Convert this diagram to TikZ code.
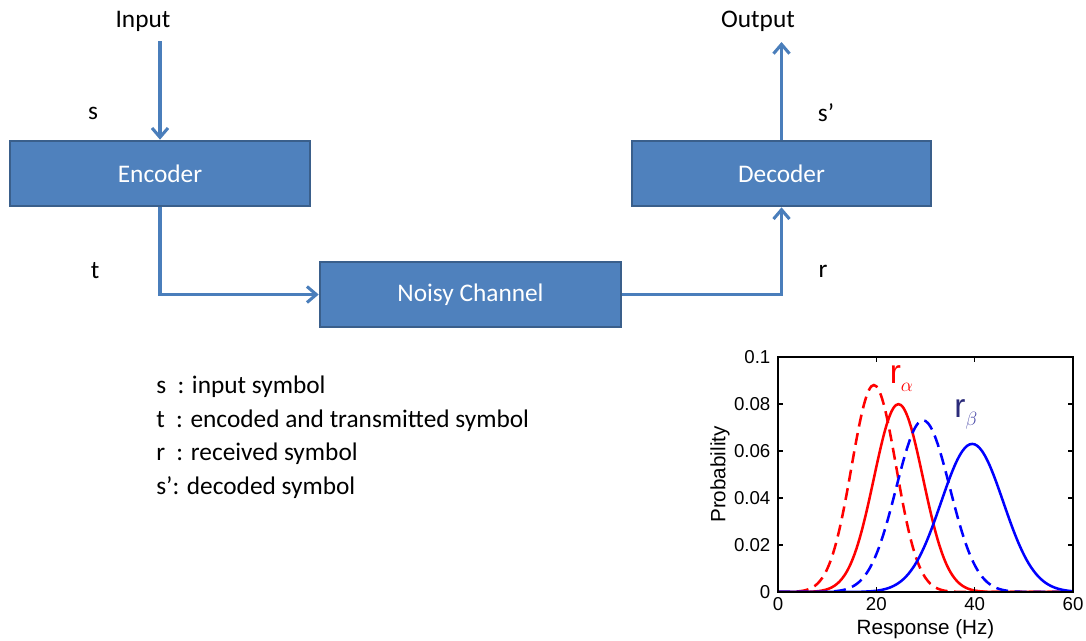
\documentclass[tikz,border=0pt]{standalone}
\usepackage{fontspec}
\setmainfont{Carlito}
\newfontfamily\plotfont{Liberation Sans}
\usetikzlibrary{arrows.meta}
\definecolor{boxfill}{HTML}{4F81BD}
\definecolor{boxedge}{HTML}{3A5F8B}
\definecolor{linkblue}{HTML}{4A7EBB}
\definecolor{navy}{HTML}{2B2B7A}
\definecolor{subnavy}{HTML}{4A4AA8}
\tikzset{
  blockbox/.style={draw=boxedge, fill=boxfill, line width=2pt, text=white,
    minimum height=48.75pt, inner sep=0pt, font=\fontsize{19}{23}\selectfont},
  link/.style={draw=linkblue, line width=2.3pt,
    -{Straight Barb[length=7pt,width=12pt,line width=2.3pt]}},
  lab/.style={font=\fontsize{19}{23}\selectfont, inner sep=0pt},
  axis/.style={draw=black, line width=0.8pt},
  tick/.style={font=\plotfont\fontsize{14}{16}\selectfont},
  axlab/.style={font=\plotfont\fontsize{15.5}{17}\selectfont},
  curve/.style={line width=1.9pt, smooth},
  dcurve/.style={curve, dash pattern=on 9pt off 5pt},
}
\begin{document}
\begin{tikzpicture}[x=0.75pt,y=-0.75pt]
\useasboundingbox (0,0) rectangle (1086,640);

% blocks
\node[blockbox, minimum width=225pt] (enc) at (160,173.5) {Encoder};
\node[blockbox, minimum width=225.75pt] (ch) at (470.5,294.5) {Noisy Channel};
\node[blockbox, minimum width=224.25pt] (dec) at (781.5,173.5) {Decoder};

% labels
\node[lab] (in) at (143,21) {Input};
\node[lab] (out) at (758,21) {Output};
\node[lab] (ls) at (93,113) {s};
\node[lab] (lt) at (95,271) {t};
\node[lab] (lsp) at (826,113) {s’};
\node[lab] (lr) at (823,271) {r};

\coordinate (inTop) at (enc.north |- 0,41);
\coordinate (outTop) at (dec.north |- 0,42);
\coordinate (bend1) at (enc.south |- ch.west);
\coordinate (bend2) at (dec.south |- ch.east);

\draw[link] (inTop) -- (enc.north);
\draw[link] (enc.south) -- (bend1) -- (ch.west);
\draw[link] (ch.east) -- (bend2) -- (dec.south);
\draw[link] (dec.north) -- (outTop);

% legend
\node[lab, anchor=west] (l1) at (156,387) {s\hspace{0.45em}: input symbol};
\node[lab, anchor=west] (l2) at (156,421) {t\hspace{0.45em}: encoded and transmitted symbol};
\node[lab, anchor=west] (l3) at (156,454) {r\hspace{0.45em}: received symbol};
\node[lab, anchor=west] (l4) at (156,488) {s’: decoded symbol};

% plot
\begin{scope}[shift={(778,592)}, x=3.6875pt, y=1762.5pt]
  \begin{scope}
    \clip (0,0) rectangle (60,0.1);
    \draw[red, dcurve] plot[domain=0:60, samples=121] (\x,{exp(-((\x-19.5)^2)/(2*4.53*4.53))/(4.53*2.5066)});
    \draw[red, curve] plot[domain=0:60, samples=121] (\x,{exp(-((\x-24.5)^2)/(2*4.99*4.99))/(4.99*2.5066)});
    \draw[blue, dcurve] plot[domain=0:60, samples=121] (\x,{exp(-((\x-29.5)^2)/(2*5.46*5.46))/(5.46*2.5066)});
    \draw[blue, curve] plot[domain=0:60, samples=121] (\x,{exp(-((\x-39.5)^2)/(2*6.33*6.33))/(6.33*2.5066)});
  \end{scope}
  \draw[axis] (0,0) rectangle (60,0.1);
  \foreach \v in {0,20,40,60} {
    \draw[axis] (\v,0) -- ++(0,0.0022);
    \draw[axis] (\v,0.1) -- ++(0,-0.0022);
    \node[tick, anchor=north] at (\v,-0.0005) {\v};
  }
  \foreach \v/\t in {0/0,0.02/0.02,0.04/0.04,0.06/0.06,0.08/0.08,0.1/0.1} {
    \draw[axis] (0,\v) -- ++(1,0);
    \draw[axis] (60,\v) -- ++(-1,0);
    \node[tick, anchor=east] at (-0.6,\v) {\t};
  }
  \node[axlab] (xl) at (30,-0.0158) {Response (Hz)};
  \node[axlab, rotate=90] (yl) at (-11.8,0.05) {Probability};
  \node[red, inner sep=0pt, font=\plotfont\fontsize{25}{26}\selectfont] (ra) at (25.1,0.091) {r\raisebox{-0.45ex}{\fontsize{14}{15}\selectfont$\alpha$}};
  \node[navy, inner sep=0pt, font=\plotfont\fontsize{25}{26}\selectfont] (rb) at (38.2,0.0755) {r\raisebox{-0.45ex}{\color{subnavy}\fontsize{14}{15}\selectfont$\beta$}};
\end{scope}
\end{tikzpicture}
\end{document}
